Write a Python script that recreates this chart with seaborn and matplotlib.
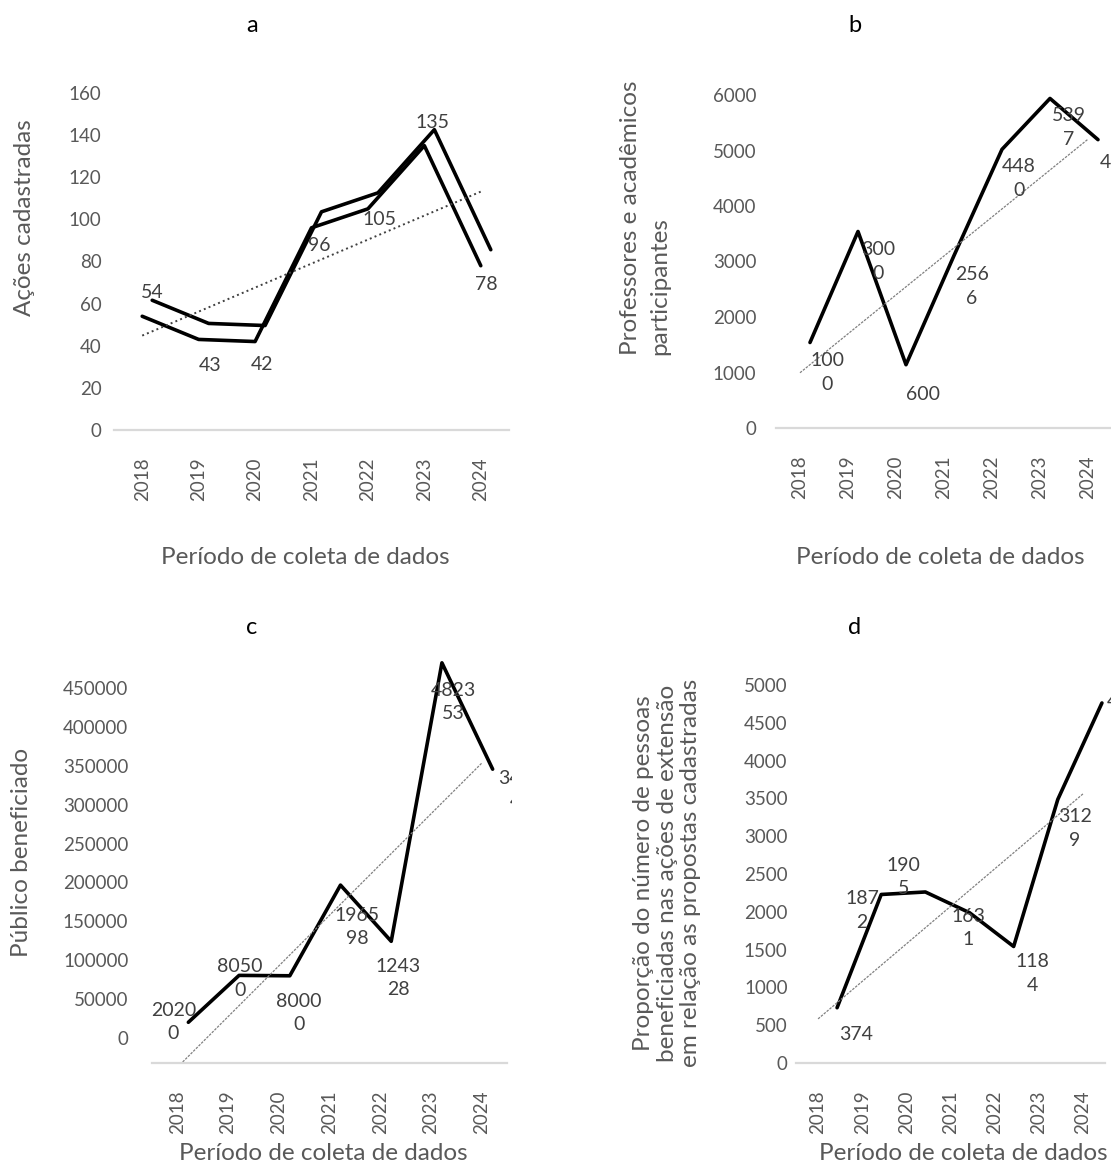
import numpy as np
import pandas as pd
import matplotlib
matplotlib.use("Agg")
import matplotlib.pyplot as plt
import matplotlib.transforms as mtransforms
import seaborn as sns

# dados (rotulos de cada ponto)
years = ["2018", "2019", "2020", "2021", "2022", "2023", "2024"]
acoes = [54, 43, 42, 96, 105, 135, 78]
professores = [1000, 3000, 600, 2566, 4480, 5397, 4655]
publico = [20200, 80500, 80000, 196598, 124328, 482353, 345644]
proporcao = [374, 1872, 1905, 1631, 1184, 3129, 4405]

sns.set_theme(style="white")
plt.rcParams["font.family"] = ["Lato", "DejaVu Sans"]

W, H = 1111, 1166
fig = plt.figure(figsize=(W / 100, H / 100), dpi=100)


def rect(l, r, t, b):
    return [l / W, 1 - b / H, (r - l) / W, (b - t) / H]


def wrap_label(v, n):
    s = str(v)
    if not n:
        return s
    return "\n".join(s[i:i + n] for i in range(0, len(s), n))


def draw_panel(box, values, ylim, yticks, wrap, offsets, shadow, main_visible,
               trend_kws, ytick_pad, ytick_shift=0, clip_right=None):
    ax = fig.add_axes(box)
    df = pd.DataFrame({"pos": np.arange(len(years)), "valor": values})
    if main_visible:
        sns.lineplot(data=df, x="pos", y="valor", ax=ax, color="black", lw=2.6,
                     errorbar=None, clip_on=False)
    # linha com sombra deslocada (efeito do grafico original)
    shadow_tr = mtransforms.offset_copy(ax.transData, fig=fig, x=shadow[0], y=shadow[1], units="dots")
    sns.lineplot(data=df, x="pos", y="valor", ax=ax, color="black", lw=2.6,
                 errorbar=None, transform=shadow_tr, clip_on=False)
    sns.regplot(data=df, x="pos", y="valor", ax=ax, scatter=False, ci=None,
                truncate=True, line_kws=trend_kws)
    for i, v in enumerate(values):
        t = ax.annotate(wrap_label(v, wrap), (i, v), xytext=(offsets[i][0], -offsets[i][1]),
                        textcoords="offset pixels", ha="center", va="center",
                        multialignment="center", linespacing=1.45,
                        fontsize=14, color="#404040", annotation_clip=False)
        if clip_right:
            bb = mtransforms.Bbox.from_extents(0, 0, clip_right, H)
            t.set_clip_box(mtransforms.TransformedBbox(bb, mtransforms.IdentityTransform()))
            t.set_clip_on(True)
    ax.set_xlim(-0.5, 6.5)
    ax.set_ylim(*ylim)
    ax.set_yticks(yticks)
    ax.set_yticklabels([str(t) for t in yticks])
    ax.set_xticks(range(len(years)))
    ax.set_xticklabels(years, rotation=90)
    ax.set(xlabel="", ylabel="")
    ax.tick_params(axis="y", length=0, pad=ytick_pad, labelsize=13.5, labelcolor="#595959")
    ax.tick_params(axis="x", length=0, pad=20, labelsize=13.5, labelcolor="#595959")
    for side in ["top", "left", "right"]:
        ax.spines[side].set_visible(False)
    ax.spines["bottom"].set_color("#d9d9d9")
    ax.spines["bottom"].set_linewidth(1.6)
    if ytick_shift:
        shift = mtransforms.ScaledTranslation(0, ytick_shift / 100, fig.dpi_scale_trans)
        for lab in ax.get_yticklabels():
            lab.set_transform(lab.get_transform() + shift)
    return ax


dotted_a = dict(color="#404040", lw=1.4, linestyle=":")
dotted = dict(color="#808080", lw=0.9, linestyle=(0, (2, 1)))

# a
draw_panel(rect(114, 509, 93, 430), acoes, (0, 160), range(0, 161, 20), 0,
           [(10, -24), (11, 26), (7, 23), (8, 18), (12, 11), (8, -23), (6, 19)],
           (10, 16), True, dotted_a, 9)
# b
draw_panel(rect(776, 1112, 95, 428), professores, (0, 6000), range(0, 6001, 1000), 3,
           [(27, 0), (30, 0), (27, 0), (28, 1), (27, -1), (29, -1), (29, 5)],
           (10, 30), False, dotted, 14)
# c
draw_panel(rect(152, 507, 713, 1063), publico, (0, 450000), range(0, 450001, 50000), 4,
           [(-4, -25), (12, -22), (20, 12), (28, 17), (18, 12), (22, 14), (39, -4)],
           (11, 25), False, dotted, 17, ytick_shift=25, clip_right=512)
# d
draw_panel(rect(796, 1105, 685, 1063), proporcao, (0, 5000), range(0, 5001, 500), 3,
           [(38, 0), (0, -11), (-3, -42), (18, -12), (38, 0), (36, 2), (41, -17)],
           (19, 27), False, dotted, 6)

# letras dos paineis
for letter, (x, y) in zip("abcd", [(252, 25), (855, 25), (252, 627), (855, 627)]):
    fig.text(x / W, 1 - y / H, letter, ha="center", va="center", fontsize=17, color="black")

# titulos dos eixos
xlab = "Período de coleta de dados"
for x, y in [(305, 558), (940, 558), (323, 1153), (963, 1153)]:
    fig.text(x / W, 1 - y / H, xlab, ha="center", va="center", fontsize=17.5, color="#595959")

fig.text(25 / W, 1 - 218 / H, "Ações cadastradas", rotation=90, ha="center", va="center",
         fontsize=17.5, color="#595959")
fig.text(645 / W, 1 - 218 / H, "Professores e acadêmicos\nparticipantes", rotation=90,
         ha="center", va="center", multialignment="left", linespacing=1.45,
         fontsize=17.5, color="#595959")
fig.text(22 / W, 1 - 852 / H, "Público beneficiado", rotation=90, ha="center", va="center",
         fontsize=17.5, color="#595959")
fig.text(667 / W, 1 - 873 / H,
         "Proporção do número de pessoas\nbeneficiadas nas ações de extensão\nem relação as propostas cadastradas",
         rotation=90, ha="center", va="center", multialignment="center", linespacing=1.15,
         fontsize=17.5, color="#595959")

fig.savefig("out.png", dpi=100)
